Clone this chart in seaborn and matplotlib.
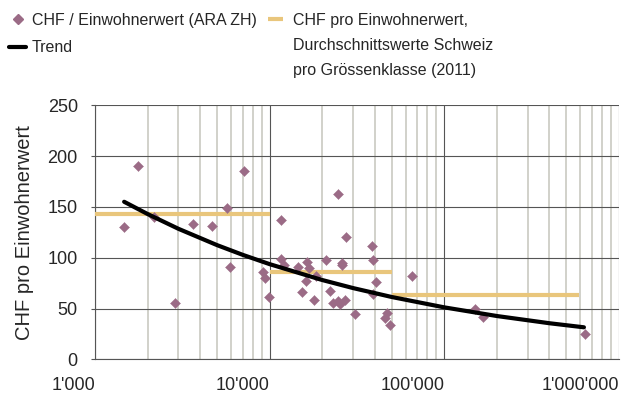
import numpy as np
import pandas as pd
import matplotlib
matplotlib.use("Agg")
import matplotlib.pyplot as plt
import matplotlib.ticker as mticker
from matplotlib.lines import Line2D
import seaborn as sns

# DATA
ew = [1455, 1758, 2173, 2877, 3646, 4656, 5700, 5933, 7130, 9160,
      9410, 9890, 11590, 11620, 12140, 14420, 15340, 16110, 16450, 16750,
      18040, 18450, 21070, 22220, 23020, 24600, 24500, 25350, 25780, 25900,
      26970, 27350, 30780, 38710, 38840, 40740, 39100, 46960, 45950, 49080,
      65310, 150600, 166900, 636800]
chf = [130.2, 190.3, 139.8, 55.7, 133.5, 131.2, 148.6, 90.5, 185.3, 85.9,
       79.7, 61.6, 136.8, 98.4, 93.1, 90.8, 65.9, 76.8, 95.8, 90.2,
       58.1, 82.3, 97.7, 66.9, 55.1, 163.0, 57.7, 54.1, 95.1, 93.0,
       58.4, 120.1, 44.3, 111.5, 97.4, 75.8, 64.0, 45.9, 41.0, 33.8,
       82.0, 49.5, 41.6, 25.2]

trend_x = [1466, 2000, 3000, 5000, 7000, 10000, 20000, 30000, 50000,
           100000, 200000, 400000, 630000]
trend_y = [155, 142.9, 128.4, 112.3, 102.8, 93.6, 78.0, 70.1, 61.3,
           51.1, 42.6, 35.5, 31.5]

# class averages Switzerland (2011): start, end, value
klasse_start = [1000, 10000, 50000]
klasse_end = [10000, 50000, 590000]
klasse_wert = [143, 86, 63]

purple = "#9b6b86"
beige = "#e9c67c"

df = pd.DataFrame({"EW": ew, "CHF": chf})
df_trend = pd.DataFrame({"EW": trend_x, "CHF": trend_y})

# STYLE
sns.set_style("white")
plt.rcParams["font.family"] = ["Liberation Sans", "DejaVu Sans"]

fig = plt.figure(figsize=(6.3, 3.94), dpi=100)
ax = fig.add_axes([0.151, 0.088, 0.8315, 0.645])

# average lines per class
for s, e, v in zip(klasse_start, klasse_end, klasse_wert):
    seg = pd.DataFrame({"EW": [s, e], "CHF": [v, v]})
    sns.lineplot(data=seg, x="EW", y="CHF", ax=ax, color=beige, lw=3,
                 solid_capstyle="butt", zorder=3)

sns.scatterplot(data=df, x="EW", y="CHF", ax=ax, marker="D", s=26,
                color=purple, edgecolor=purple, linewidth=0.3, zorder=4)

sns.lineplot(data=df_trend, x="EW", y="CHF", ax=ax, color="black", lw=3,
             zorder=5)

ax.set_xscale("log")
ax.set_xlim(1000, 1000000)
ax.set_ylim(0, 250)
ax.set_yticks([0, 50, 100, 150, 200, 250])
ax.xaxis.set_major_locator(mticker.LogLocator(base=10))
ax.xaxis.set_minor_locator(mticker.LogLocator(base=10, subs=np.arange(2, 10)))
ax.xaxis.set_minor_formatter(mticker.NullFormatter())
ax.xaxis.set_major_formatter(
    mticker.FuncFormatter(lambda v, p: f"{int(round(v)):,}".replace(",", "'")))

# GRID
ax.grid(which="minor", axis="x", color="#c9c9c1", lw=1.2, zorder=0)
ax.grid(which="major", axis="x", color="#555555", lw=0.8, zorder=1)
ax.grid(which="major", axis="y", color="#555555", lw=0.8, zorder=1)
ax.set_axisbelow(True)

for side in ["top", "right"]:
    ax.spines[side].set_visible(False)
for side in ["left", "bottom"]:
    ax.spines[side].set_color("#555555")
    ax.spines[side].set_linewidth(0.8)

ax.tick_params(axis="x", which="major", length=10, width=0.8, color="#555555",
               pad=2.5, labelsize=13)
ax.tick_params(axis="x", which="minor", length=0)
ax.tick_params(axis="y", length=3, width=0.8, color="#555555", pad=9.5,
               labelsize=13, left=True)
for lab in ax.get_xticklabels():
    lab.set_horizontalalignment("right")

ax.set_xlabel("")
ax.set_ylabel("CHF pro Einwohnerwert", fontsize=14.5, labelpad=10)

# LEGEND
h_pts = Line2D([], [], marker="D", ls="none", color=purple, markersize=5)
h_trend = Line2D([], [], color="black", lw=3)
leg1 = fig.legend([h_pts, h_trend], ["CHF / Einwohnerwert (ARA ZH)", "Trend"],
                  loc="upper left", bbox_to_anchor=(0.014, 0.9675),
                  frameon=False, borderpad=0, borderaxespad=0,
                  handlelength=1.1, handletextpad=0.35, labelspacing=0.79,
                  fontsize=11.5)

h_avg = Line2D([], [], color=beige, lw=3, solid_capstyle="butt")
h_none = Line2D([], [], color="none")
leg2 = fig.legend([h_avg, h_none, h_none],
                  ["CHF pro Einwohnerwert,", "Durchschnittswerte Schweiz",
                   "pro Grössenklasse (2011)"],
                  loc="upper left", bbox_to_anchor=(0.425, 0.9675),
                  frameon=False, borderpad=0, borderaxespad=0,
                  handlelength=0.94, handletextpad=0.62, labelspacing=0.63,
                  fontsize=11.5)

plt.savefig("out.png", dpi=100)
